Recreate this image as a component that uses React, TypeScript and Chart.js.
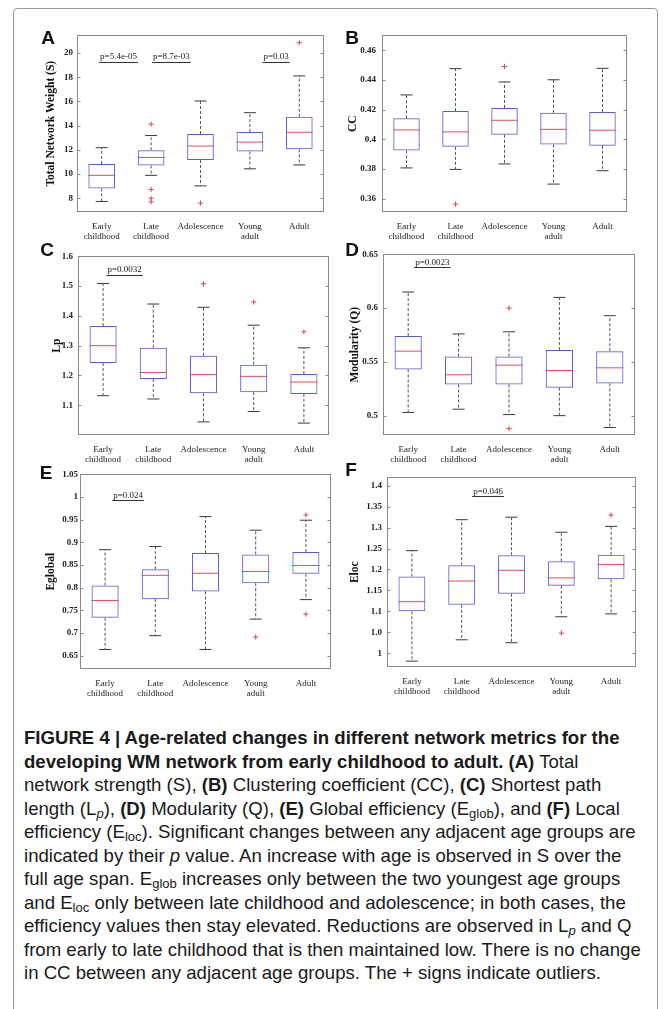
import React, { useEffect, useRef } from "react";
import { Chart, registerables } from "chart.js";

Chart.register(...registerables);

// ---------------- DATA ----------------
const categories = ["Early childhood", "Late childhood", "Adolescence", "Young adult", "Adult"];
const categoryLines = [["Early", "childhood"], ["Late", "childhood"], ["Adolescence"], ["Young", "adult"], ["Adult"]];

// (A) Total network weight S
const sLow = [7.73, 9.89, 9.02, 10.43, 10.75];
const sQ1 = [8.81, 10.7, 11.15, 11.86, 12.04];
const sMed = [9.89, 11.37, 12.31, 12.64, 13.45];
const sQ3 = [10.83, 11.96, 13.31, 13.47, 14.74];
const sHigh = [12.18, 13.18, 16.04, 15.07, 18.11];
const sOut = [[], [14.12, 8.73, 8.0, 7.7], [7.6], [], [20.86]];
const sTicks = [8, 10, 12, 14, 16, 18, 20];
const sTickLabels = ["8", "10", "12", "14", "16", "18", "20"];
const sNotes = [
  { text: "p=5.4e-05", x: 0.34, y: 19.68 },
  { text: "p=8.7e-03", x: 1.41, y: 19.68 },
  { text: "p=0.03", x: 3.53, y: 19.68 },
];

// (B) Clustering coefficient CC
const cLow = [0.3807, 0.3797, 0.3834, 0.3698, 0.3788];
const cQ1 = [0.3925, 0.3949, 0.403, 0.3965, 0.3956];
const cMed = [0.4063, 0.405, 0.4128, 0.4067, 0.4061];
const cQ3 = [0.4141, 0.419, 0.4211, 0.4179, 0.4183];
const cHigh = [0.4299, 0.4476, 0.4386, 0.4401, 0.4478];
const cOut = [[], [0.3563], [0.4491], [], []];
const cTicks = [0.36, 0.38, 0.4, 0.42, 0.44, 0.46];
const cTickLabels = ["0.36", "0.38", "0.4", "0.42", "0.44", "0.46"];
const cNotes: { text: string; x: number; y: number }[] = [];

// (C) Shortest path length Lp
const lLow = [1.132, 1.121, 1.044, 1.079, 1.04];
const lQ1 = [1.242, 1.188, 1.14, 1.144, 1.138];
const lMed = [1.3, 1.21, 1.203, 1.197, 1.178];
const lQ3 = [1.366, 1.293, 1.266, 1.236, 1.205];
const lHigh = [1.509, 1.44, 1.429, 1.369, 1.293];
const lOut = [[], [], [1.508], [1.447], [1.347]];
const lTicks = [1.1, 1.2, 1.3, 1.4, 1.5, 1.6];
const lTickLabels = ["1.1", "1.2", "1.3", "1.4", "1.5", "1.6"];
const lNotes = [{ text: "p=0.0032", x: 0.43, y: 1.555 }];

// (D) Modularity Q
const qLow = [0.503, 0.506, 0.501, 0.5, 0.489];
const qQ1 = [0.543, 0.529, 0.529, 0.526, 0.53];
const qMed = [0.56, 0.538, 0.547, 0.542, 0.5445];
const qQ3 = [0.574, 0.555, 0.555, 0.561, 0.56];
const qHigh = [0.615, 0.576, 0.578, 0.61, 0.593];
const qOut = [[], [], [0.6, 0.488], [], []];
const qTicks = [0.5, 0.55, 0.6, 0.65];
const qTickLabels = ["0.5", "0.55", "0.6", "0.65"];
const qNotes = [{ text: "p=0.0023", x: 0.48, y: 0.6427 }];

// (E) Global efficiency
const gLow = [0.664, 0.6945, 0.664, 0.731, 0.774];
const gQ1 = [0.734, 0.775, 0.792, 0.81, 0.831];
const gMed = [0.772, 0.8275, 0.832, 0.836, 0.849];
const gQ3 = [0.805, 0.841, 0.8765, 0.8735, 0.879];
const gHigh = [0.884, 0.891, 0.957, 0.927, 0.949];
const gOut = [[], [], [], [0.6915], [0.9605, 0.742]];
const gTicks = [0.65, 0.7, 0.75, 0.8, 0.85, 0.9, 0.95, 1, 1.05];
const gTickLabels = ["0.65", "0.7", "0.75", "0.8", "0.85", "0.9", "0.95", "1", "1.05"];
const gNotes = [{ text: "p=0.024", x: 0.46, y: 1.004 }];

// (F) Local efficiency
const eLow = [0.981, 1.032, 1.025, 1.087, 1.094];
const eQ1 = [1.1, 1.1155, 1.142, 1.161, 1.1765];
const eMed = [1.123, 1.1725, 1.198, 1.18, 1.212];
const eQ3 = [1.183, 1.21, 1.234, 1.2195, 1.235];
const eHigh = [1.245, 1.319, 1.325, 1.289, 1.303];
const eOut = [[], [], [], [1.048], [1.33]];
const eTicks = [1, 1.05, 1.1, 1.15, 1.2, 1.25, 1.3, 1.35, 1.4];
const eTickLabels = ["1", "1.0", "1.1", "1.15", "1.2", "1.25", "1.3", "1.35", "1.4"];
const eNotes = [{ text: "p=0.046", x: 1.53, y: 1.387 }];

// ---------------- STYLE ----------------
const SERIF = "'Liberation Serif', 'Times New Roman', serif";
const SANS = "'Liberation Sans', Arial, Helvetica, sans-serif";
const BOX_BLUE = "#5c5cd0";
const MED_RED = "#e0505a";
const WHISKER = "#555555";
const CAP = "#3a3a3a";
const OUT_RED = "#d8475a";
const FRAME = "#8a8a8a";
const BAR_PCT = 0.54;
const Y_BOX = 62; // space left of plot area

type Note = { text: string; x: number; y: number };
type Panel = {
  letter: string;
  title: string;
  low: number[]; q1: number[]; med: number[]; q3: number[]; high: number[]; out: number[][];
  ticks: number[]; tickLabels: string[];
  yMin: number; yMax: number;
  notes: Note[];
  L: number; T: number; R: number; B: number;
  titleX: number; labelPad: number;
  letterX: number; letterY: number;
};

const panels: Panel[] = [
  { letter: "A", title: "Total Network Weight (S)", low: sLow, q1: sQ1, med: sMed, q3: sQ3, high: sHigh, out: sOut,
    ticks: sTicks, tickLabels: sTickLabels, yMin: 6.86, yMax: 21.46, notes: sNotes,
    L: 77, T: 32, R: 325, B: 212, titleX: 51, labelPad: 4, letterX: 48, letterY: 38 },
  { letter: "B", title: "CC", low: cLow, q1: cQ1, med: cMed, q3: cQ3, high: cHigh, out: cOut,
    ticks: cTicks, tickLabels: cTickLabels, yMin: 0.351, yMax: 0.47, notes: cNotes,
    L: 382, T: 30, R: 628, B: 212, titleX: 353, labelPad: 6, letterX: 352, letterY: 38 },
  { letter: "C", title: "Lp", low: lLow, q1: lQ1, med: lMed, q3: lQ3, high: lHigh, out: lOut,
    ticks: lTicks, tickLabels: lTickLabels, yMin: 1.0, yMax: 1.6, notes: lNotes,
    L: 78, T: 252, R: 330, B: 435, titleX: 57.5, labelPad: 5, letterX: 47, letterY: 250 },
  { letter: "D", title: "Modularity (Q)", low: qLow, q1: qQ1, med: qMed, q3: qQ3, high: qHigh, out: qOut,
    ticks: qTicks, tickLabels: qTickLabels, yMin: 0.482, yMax: 0.65, notes: qNotes,
    L: 383, T: 250, R: 636, B: 435, titleX: 355, labelPad: 5, letterX: 352, letterY: 250 },
  { letter: "E", title: "Eglobal", low: gLow, q1: gQ1, med: gMed, q3: gQ3, high: gHigh, out: gOut,
    ticks: gTicks, tickLabels: gTickLabels, yMin: 0.621, yMax: 1.05, notes: gNotes,
    L: 80, T: 473, R: 332, B: 669, titleX: 51, labelPad: 2, letterX: 46, letterY: 473 },
  { letter: "F", title: "Eloc", low: eLow, q1: eQ1, med: eMed, q3: eQ3, high: eHigh, out: eOut,
    ticks: eTicks, tickLabels: eTickLabels, yMin: 0.967, yMax: 1.42, notes: eNotes,
    L: 387, T: 473, R: 637, B: 667, titleX: 355, labelPad: 5, letterX: 351, letterY: 470 },
];

function makeFramePlugin(notes: Note[]) {
  return {
    id: "boxFrame",
    afterDraw(chart: any) {
      const { ctx, chartArea: a, scales } = chart;
      const ys = scales.y;
      const xs = scales.x;
      ctx.save();
      ctx.strokeStyle = FRAME;
      ctx.lineWidth = 1;
      ctx.strokeRect(Math.round(a.left) + 0.5, Math.round(a.top) + 0.5, Math.round(a.right - a.left) - 1, Math.round(a.bottom - a.top) - 1);
      ctx.beginPath();
      ys.ticks.forEach((t: any) => {
        const py = Math.round(ys.getPixelForValue(t.value)) + 0.5;
        ctx.moveTo(a.left, py);
        ctx.lineTo(a.left + 3.5, py);
        ctx.moveTo(a.right - 3.5, py);
        ctx.lineTo(a.right, py);
      });
      ctx.stroke();
      ctx.fillStyle = "#222";
      ctx.strokeStyle = "#333";
      ctx.font = `9px ${SERIF}`;
      ctx.textAlign = "center";
      ctx.textBaseline = "middle";
      notes.forEach((n) => {
        const px = xs.getPixelForValue(n.x);
        const py = ys.getPixelForValue(n.y);
        ctx.fillText(n.text, px, py);
        const w = ctx.measureText(n.text).width;
        ctx.beginPath();
        ctx.moveTo(px - w / 2 - 1, Math.round(py + 5) + 0.5);
        ctx.lineTo(px + w / 2 + 1, Math.round(py + 5) + 0.5);
        ctx.stroke();
      });
      ctx.restore();
    },
  };
}

function buildDatasets(p: Panel): any[] {
  const whisker: any[] = [];
  categories.forEach((c, i) => {
    whisker.push({ x: c, y: p.q3[i] }, { x: c, y: p.high[i] }, { x: c, y: null });
    whisker.push({ x: c, y: p.q1[i] }, { x: c, y: p.low[i] }, { x: c, y: null });
  });
  const outliers: any[] = [];
  categories.forEach((c, i) => p.out[i].forEach((v) => outliers.push({ x: c, y: v })));
  const medRadius = (ctx: any) => (ctx.chart.scales.x.width / categories.length) * BAR_PCT / 2;
  const pointLine = { type: "line", showLine: false, pointStyle: "line", pointBorderWidth: 1 };
  return [
    {
      type: "bar",
      data: categories.map((_, i) => [p.q1[i], p.q3[i]]),
      backgroundColor: "rgba(0,0,0,0)",
      borderColor: BOX_BLUE,
      borderWidth: 1,
      borderSkipped: false,
      barPercentage: BAR_PCT,
      categoryPercentage: 1,
    },
    {
      type: "line",
      data: whisker,
      borderColor: WHISKER,
      borderWidth: 1,
      borderDash: [3, 2],
      pointRadius: 0,
      spanGaps: false,
      fill: false,
    },
    { ...pointLine, data: p.high, pointRadius: 6, pointBorderColor: CAP },
    { ...pointLine, data: p.low, pointRadius: 6, pointBorderColor: CAP },
    { ...pointLine, data: p.med, pointRadius: medRadius, pointBorderColor: MED_RED },
    {
      type: "line",
      data: outliers,
      showLine: false,
      pointStyle: "cross",
      pointRadius: 2.6,
      pointBorderWidth: 1,
      pointBorderColor: OUT_RED,
    },
  ];
}

function BoxPanel({ p }: { p: Panel }) {
  const ref = useRef<HTMLCanvasElement>(null);
  const x0 = p.L - Y_BOX;
  const y0 = p.T - 6;
  const w = p.R + 6 - x0;
  const h = p.B + 32 - y0;
  const lp = p.titleX - x0 - 6.9;
  useEffect(() => {
    const chart = new Chart(ref.current as HTMLCanvasElement, {
      type: "bar",
      data: { labels: categories, datasets: buildDatasets(p) },
      options: {
        animation: false,
        responsive: false,
        events: [],
        layout: { padding: { left: lp, top: 6, right: 6, bottom: 0 } },
        plugins: { legend: { display: false }, tooltip: { enabled: false } },
        scales: {
          x: {
            grid: { display: false },
            border: { display: false },
            ticks: {
              autoSkip: false,
              maxRotation: 0,
              padding: 1,
              color: "#222",
              font: { family: SERIF, size: 9, lineHeight: 1.15 },
              callback: (_v: any, i: number) => categoryLines[i],
            },
            afterFit: (s: any) => { s.height = 32; },
          },
          y: {
            type: "linear",
            min: p.yMin,
            max: p.yMax,
            grid: { display: false, drawTicks: false },
            border: { display: false },
            afterBuildTicks: (s: any) => { s.ticks = p.ticks.map((v) => ({ value: v })); },
            ticks: {
              autoSkip: false,
              padding: p.labelPad,
              color: "#222",
              font: { family: SERIF, size: 9, weight: "bold" },
              callback: (_v: any, i: number) => p.tickLabels[i],
            },
            title: {
              display: true,
              text: p.title,
              padding: 0,
              color: "#111",
              font: { family: SERIF, size: 11.5, weight: "bold", lineHeight: 1.2 },
            },
            afterFit: (s: any) => { s.width = Y_BOX - lp; },
          },
        },
      } as any,
      plugins: [makeFramePlugin(p.notes)],
    });
    return () => chart.destroy();
  }, []);
  return (
    <canvas
      ref={ref}
      width={w}
      height={h}
      style={{ position: "absolute", left: x0, top: y0, width: w, height: h }}
    />
  );
}

const Sub = ({ children }: { children: React.ReactNode }) => (
  <sub style={{ fontSize: "0.7em", verticalAlign: "-0.25em", lineHeight: 0 }}>{children}</sub>
);

const captionLines: React.ReactNode[] = [
  <b>FIGURE 4 | Age-related changes in different network metrics for the</b>,
  <><b>developing WM network from early childhood to adult. (A)</b> Total</>,
  <>network strength (S), <b>(B)</b> Clustering coefficient (CC), <b>(C)</b> Shortest path</>,
  <>length (L<Sub><i>p</i></Sub>), <b>(D)</b> Modularity (Q), <b>(E)</b> Global efficiency (E<Sub>glob</Sub>), and <b>(F)</b> Local</>,
  <>efficiency (E<Sub>loc</Sub>). Significant changes between any adjacent age groups are</>,
  <>indicated by their <i>p</i> value. An increase with age is observed in S over the</>,
  <>full age span. E<Sub>glob</Sub> increases only between the two youngest age groups</>,
  <>and E<Sub>loc</Sub> only between late childhood and adolescence; in both cases, the</>,
  <>efficiency values then stay elevated. Reductions are observed in L<Sub><i>p</i></Sub> and Q</>,
  <>from early to late childhood that is then maintained low. There is no change</>,
  <>in CC between any adjacent age groups. The + signs indicate outliers.</>,
];

export default function App() {
  return (
    <div style={{ position: "absolute", left: 0, top: 0, width: 671, height: 1009, overflow: "hidden", background: "#fff" }}>
      <div
        style={{
          position: "absolute",
          left: 13,
          top: 8,
          width: 645,
          height: 1030,
          border: "1.5px solid #9a9a9a",
          borderRadius: 4,
          boxSizing: "border-box",
        }}
      />
      {panels.map((p) => (
        <BoxPanel key={p.letter} p={p} />
      ))}
      {panels.map((p) => (
        <div
          key={"l" + p.letter}
          style={{
            position: "absolute",
            left: p.letterX - 12,
            top: p.letterY - 10,
            width: 24,
            height: 20,
            lineHeight: "20px",
            textAlign: "center",
            fontFamily: SANS,
            fontWeight: 900,
            fontSize: 19,
            color: "#111",
          }}
        >
          {p.letter}
        </div>
      ))}
      <div
        style={{
          position: "absolute",
          left: 24,
          top: 726,
          fontFamily: SANS,
          fontSize: 18.6,
          lineHeight: "23.5px",
          color: "#1a1a1a",
        }}
      >
        {captionLines.map((ln, i) => (
          <div key={i} style={{ whiteSpace: "nowrap" }}>
            {ln}
          </div>
        ))}
      </div>
    </div>
  );
}
